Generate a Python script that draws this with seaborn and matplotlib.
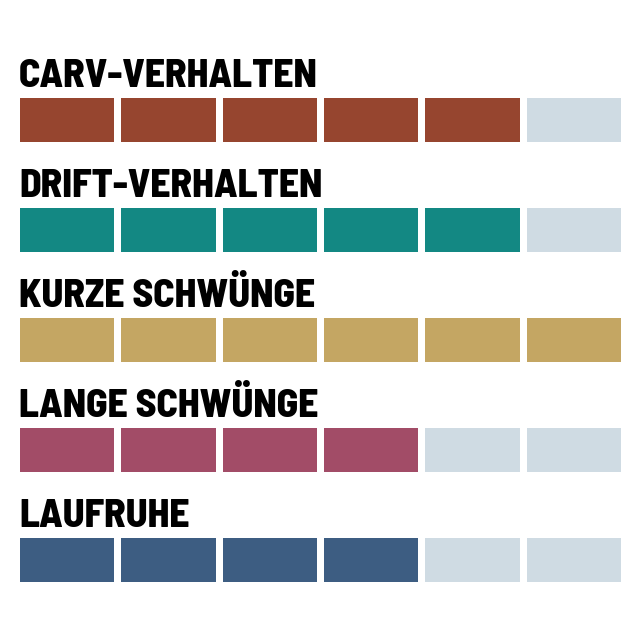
import numpy as np
import matplotlib
matplotlib.use("Agg")
import matplotlib.pyplot as plt
from matplotlib.colors import ListedColormap
import seaborn as sns

sns.set_style("white")
plt.rcParams['font.family'] = ['Barlow Semi Condensed', 'Barlow Condensed', 'DejaVu Sans']

categories = ["CARV-VERHALTEN", "DRIFT-VERHALTEN", "KURZE SCHWÜNGE",
              "LANGE SCHWÜNGE", "LAUFRUHE"]
scores = [5, 5, 6, 4, 4]
max_score = 6
colors = ["#96452f", "#138883", "#c4a663", "#a24c67", "#3d5d82"]
empty = "#cfdbe3"

W = H = 640
fig = plt.figure(figsize=(6.4, 6.4), dpi=100)

gap = 6.5  # px between blocks
lw = gap * 72 / 100
left, right = 19, 621
for i, (cat, sc, col) in enumerate(zip(categories, scores, colors)):
    top = 97 + 110 * i
    bot = top + 45
    ax = fig.add_axes([(left - gap / 2) / W, (H - bot - gap / 2) / H,
                       (right - left + gap) / W, (bot - top + gap) / H])
    row = (np.arange(max_score) < sc).astype(float).reshape(1, -1)
    sns.heatmap(row, ax=ax, cmap=ListedColormap([empty, col]), vmin=0, vmax=1,
                cbar=False, linewidths=lw, linecolor="white",
                xticklabels=False, yticklabels=False)
    ax.axis("off")
    fig.text(left / W, (H - top + 10) / H, cat, fontsize=28.5, fontweight=800,
             color="black", ha="left", va="baseline")

fig.savefig("out.png", dpi=100, facecolor="white")
